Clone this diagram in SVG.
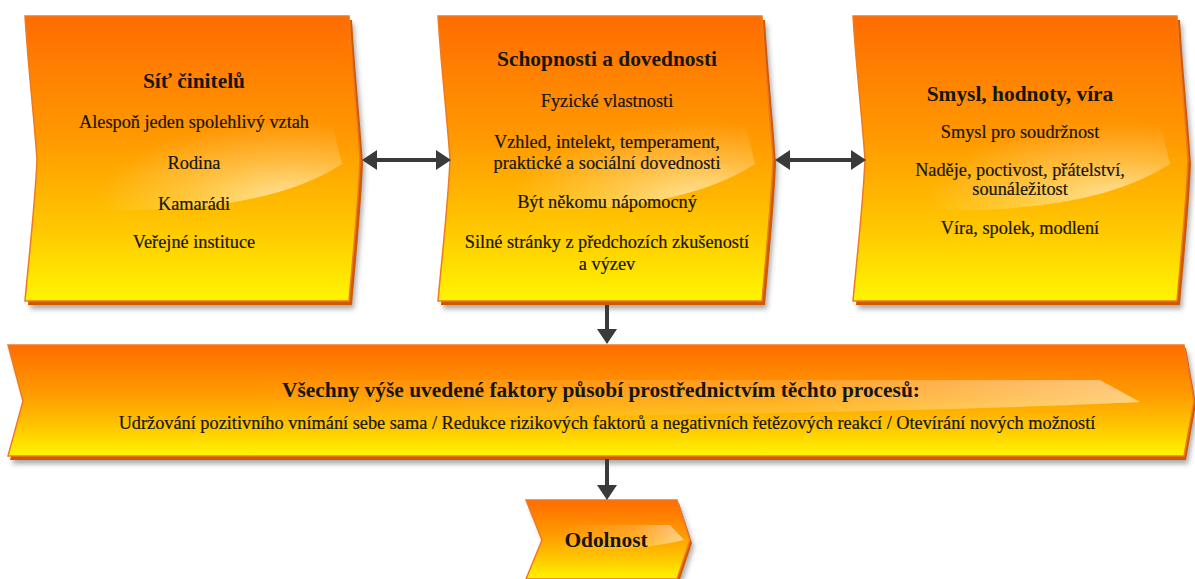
<svg xmlns="http://www.w3.org/2000/svg" width="1195" height="579" viewBox="0 0 1195 579">
<style>
.t{font-family:'Liberation Serif','Times New Roman',serif;fill:#161616;text-anchor:middle}
.h{font-weight:bold;font-size:21.4px}
.b{font-size:18.3px;stroke:#161616;stroke-width:0.2}
.body{fill:url(#fillG);stroke:#ee7a22;stroke-width:1.5}
.ext{fill:#cf5a06}
.gl{fill:url(#glossG)}
.conn{stroke:#3a3a3a;stroke-width:4;fill:none}
</style>
<defs>
<linearGradient id="fillG" x1="0" y1="0" x2="0" y2="1">
<stop offset="0" stop-color="#ff6c00"/>
<stop offset="0.45" stop-color="#ff9c00"/>
<stop offset="0.75" stop-color="#ffc800"/>
<stop offset="1" stop-color="#fff500"/>
</linearGradient>
<radialGradient id="glossG" cx="0.8" cy="0.9" r="0.75">
<stop offset="0" stop-color="#fff" stop-opacity="0.6"/>
<stop offset="0.5" stop-color="#fff" stop-opacity="0.25"/>
<stop offset="1" stop-color="#fff" stop-opacity="0"/>
</radialGradient>
<linearGradient id="glossH" x1="0" y1="0" x2="1" y2="0">
<stop offset="0" stop-color="#fff" stop-opacity="0"/>
<stop offset="0.6" stop-color="#fff" stop-opacity="0.15"/>
<stop offset="1" stop-color="#fff" stop-opacity="0.5"/>
</linearGradient>
<filter id="sh" x="-5%" y="-5%" width="110%" height="115%">
<feDropShadow dx="2" dy="4" stdDeviation="2.5" flood-color="#444" flood-opacity="0.45"/>
</filter>
<path id="box" d="M0,0 L324,0 C327,50 333,110 335,144 C333,190 327,250 324,285 L0,285 C3,250 10,190 12,144 C10,110 3,50 0,0 Z"/>
<path id="boxGloss" d="M60,90 L303,90 L317,148 Q240,198 75,194 Z"/>
<marker id="ah" viewBox="0 0 15 20" markerWidth="15" markerHeight="20" refX="12" refY="10" orient="auto-start-reverse" markerUnits="userSpaceOnUse">
<path d="M0,0 L15,10 L0,20 Z" fill="#3a3a3a"/>
</marker>
</defs>

<g id="node-sit">
<g transform="translate(25,16)">
<use href="#box" class="ext" transform="translate(3,4)" filter="url(#sh)"/>
<use href="#box" class="body"/>
<use href="#boxGloss" class="gl"/>
</g>
<text class="t h" x="194" y="88">Síť činitelů</text>
<text class="t b" x="194" y="128">Alespoň jeden spolehlivý vztah</text>
<text class="t b" x="194" y="169">Rodina</text>
<text class="t b" x="194" y="210">Kamarádi</text>
<text class="t b" x="194" y="248">Veřejné instituce</text>
</g>

<g id="node-schopnosti">
<g transform="translate(438,16)">
<use href="#box" class="ext" transform="translate(3,4)" filter="url(#sh)"/>
<use href="#box" class="body"/>
<use href="#boxGloss" class="gl"/>
</g>
<text class="t h" x="607" y="66">Schopnosti a dovednosti</text>
<text class="t b" x="607" y="107">Fyzické vlastnosti</text>
<text class="t b" x="607" y="148">Vzhled, intelekt, temperament,</text>
<text class="t b" x="607" y="169">praktické a sociální dovednosti</text>
<text class="t b" x="607" y="208">Být někomu nápomocný</text>
<text class="t b" x="607" y="248">Silné stránky z předchozích zkušeností</text>
<text class="t b" x="607" y="270">a výzev</text>
</g>

<g id="node-smysl">
<g transform="translate(853,16)">
<use href="#box" class="ext" transform="translate(3,4)" filter="url(#sh)"/>
<use href="#box" class="body"/>
<use href="#boxGloss" class="gl"/>
</g>
<text class="t h" x="1020" y="101">Smysl, hodnoty, víra</text>
<text class="t b" x="1020" y="138">Smysl pro soudržnost</text>
<text class="t b" x="1020" y="176">Naděje, poctivost, přátelství,</text>
<text class="t b" x="1020" y="195">sounáležitost</text>
<text class="t b" x="1020" y="234">Víra, spolek, modlení</text>
</g>

<g id="node-procesy">
<path class="ext" filter="url(#sh)" d="M10,348 L1186,348 L1196,404 L1186,460 L10,460 L25,404 Z"/>
<path class="body" d="M8,345 L1184,345 L1194,401 L1184,456 L8,456 L23,401 Z"/>
<path fill="url(#glossH)" d="M250,380 L1100,380 L1140,402 Q900,414 250,420 Z"/>
<text class="t h" x="601" y="397">Všechny výše uvedené faktory působí prostřednictvím těchto procesů:</text>
<text class="t b" x="607" y="429">Udržování pozitivního vnímání sebe sama / Redukce rizikových faktorů a negativních řetězových reakcí / Otevírání nových možností</text>
</g>

<g id="node-odolnost">
<path class="ext" filter="url(#sh)" d="M528,503 L679,503 L692,543 L679,582 L528,582 L544,543 Z"/>
<path class="body" d="M526,500 L677,500 L690,540 L677,579 L526,579 L542,540 Z"/>
<path fill="url(#glossH)" d="M560,525 L670,525 L684,540 Q640,551 560,550 Z"/>
<text class="t h" x="606" y="547">Odolnost</text>
</g>

<g id="connectors">
<line class="conn" x1="365" y1="160" x2="448" y2="160" marker-start="url(#ah)" marker-end="url(#ah)"/>
<line class="conn" x1="778" y1="160" x2="863" y2="160" marker-start="url(#ah)" marker-end="url(#ah)"/>
<line class="conn" x1="607" y1="305" x2="607" y2="341" marker-end="url(#ah)"/>
<line class="conn" x1="607" y1="459" x2="607" y2="497" marker-end="url(#ah)"/>
</g>
</svg>
